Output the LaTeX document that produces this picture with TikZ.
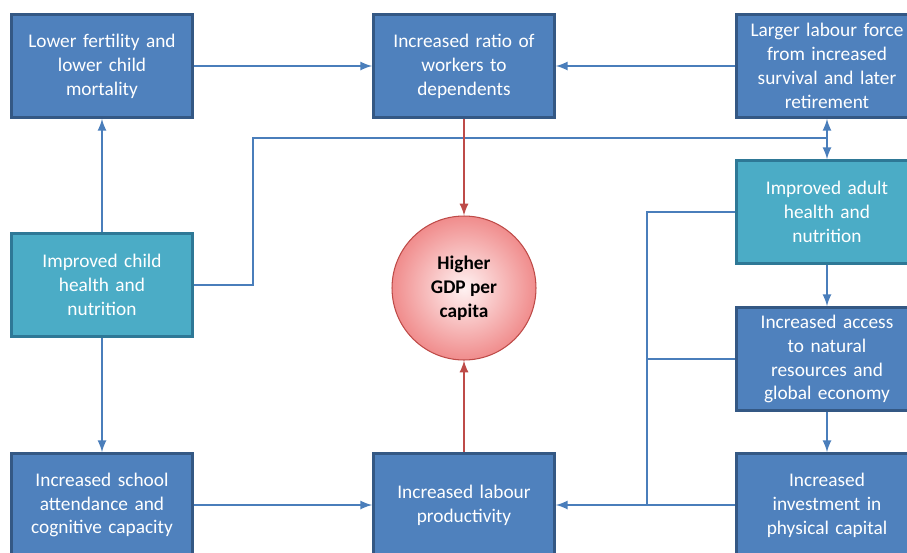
\documentclass[tikz,border=0pt]{standalone}
\usepackage{fontspec}
\setmainfont{Carlito}
\usetikzlibrary{arrows}

\definecolor{boxblue}{RGB}{79,129,189}
\definecolor{boxblueline}{RGB}{52,88,132}
\definecolor{boxteal}{RGB}{75,172,198}
\definecolor{boxtealline}{RGB}{46,120,150}
\definecolor{linkblue}{RGB}{74,126,187}
\definecolor{linkred}{RGB}{190,75,72}

\tikzset{
	darkbox/.style={draw=boxblueline, line width=1.5pt, fill=boxblue, text=white,
		minimum width=3.62cm, minimum height=2.06cm, text width=3.4cm, align=center,
		inner sep=0pt, font=\fontsize{11}{13.6}\selectfont},
	lightbox/.style={darkbox, draw=boxtealline, fill=boxteal},
	bluelink/.style={line width=1.3pt, draw=linkblue},
	bluearrow/.style={bluelink, -latex},
	redarrow/.style={line width=1.3pt, draw=linkred, -latex}
}

\begin{document}
\begin{tikzpicture}[x=0.02cm, y=-0.02cm]
	
	\useasboundingbox (0,0) rectangle (907,552);
	\clip (0,0) rectangle (907,552);
	
	% Top row
	\node[darkbox] (fert) at (102,66) {Lower fertility and\\lower child\\mortality};
	\node[darkbox] (ratio) at (464,66) {Increased ratio of\\workers to\\dependents};
	\node[darkbox] (labour) at (827,66) {Larger labour force\\from increased\\survival and later\\retirement};
	
	% Middle
	\node[lightbox] (child) at (102,285) {Improved child\\health and\\nutrition};
	\node[lightbox] (adult) at (827,212) {Improved adult\\health and\\nutrition};
	\node[darkbox] (access) at (827,359) {Increased access\\to natural\\resources and\\global economy};
	
	% GDP
	\node[circle, draw=linkred, line width=0.6pt, minimum size=2.88cm, inner sep=0pt,
		inner color=red!5, outer color={rgb,255:red,240;green,140;blue,140},
		align=center, font=\fontsize{11}{13.6}\selectfont\bfseries] (gdp) at (464,288) {Higher\\GDP per\\capita};
	
	% Bottom row
	\node[darkbox] (school) at (102,505) {Increased school\\attendance and\\cognitive capacity};
	\node[darkbox] (prod) at (464,505) {Increased labour\\productivity};
	\node[darkbox] (invest) at (827,505) {Increased\\investment in\\physical capital};
	
	% Junctions
	\coordinate (bend) at (253,138);
	\coordinate (split) at (827,138);
	\coordinate (trunk) at (647,505);
	
	% Arrows
	\draw[bluearrow] (fert) -- (ratio);
	\draw[bluearrow] (labour) -- (ratio);
	\draw[bluearrow] (child) -- (fert);
	\draw[bluearrow] (child) -- (school);
	\draw[bluearrow] (school) -- (prod);
	\draw[bluelink] (child) -| (bend) -- (split);
	\draw[bluearrow] (split) -- (labour);
	\draw[bluearrow] (split) -- (adult);
	\draw[bluearrow] (adult) -- (access);
	\draw[bluearrow] (access) -- (invest);
	\draw[bluelink] (adult) -| (trunk);
	\draw[bluelink] (access) -- (access -| trunk);
	\draw[bluearrow] (invest) -- (prod);
	\draw[redarrow] (ratio) -- (gdp);
	\draw[redarrow] (prod) -- (gdp);
	
\end{tikzpicture}
\end{document}
